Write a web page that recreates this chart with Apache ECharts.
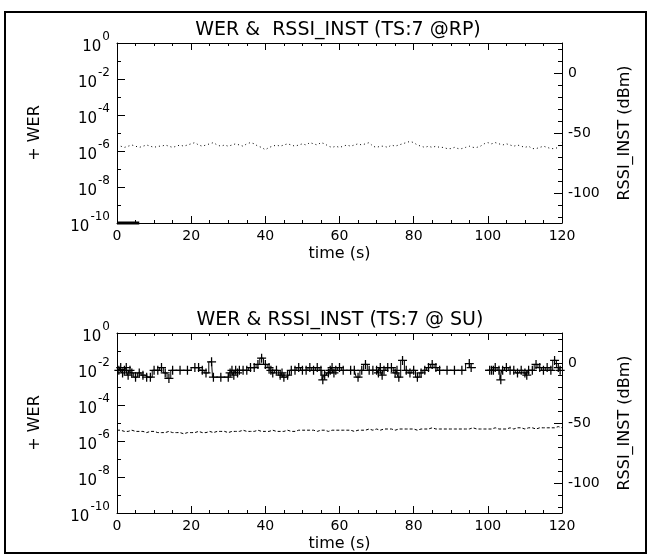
<!DOCTYPE html>
<html>
<head>
<meta charset="utf-8">
<script src="https://cdn.jsdelivr.net/npm/echarts@6/dist/echarts.min.js"></script>
<style>html,body{margin:0;padding:0;background:#fff}#c{width:651px;height:559px}</style>
</head>
<body>
<div id="c"></div>
<script>
// ---- data ----
const titles = ['WER &  RSSI_INST (TS:7 @RP)', 'WER & RSSI_INST (TS:7 @ SU)'];
const xTicks = [0, 20, 40, 60, 80, 100, 120];
const werTickLabels = [1, 1e-2, 1e-4, 1e-6, 1e-8, 1e-10];
const werMinorTicks = [1, 1e-1, 1e-2, 1e-3, 1e-4, 1e-5, 1e-6, 1e-7, 1e-8, 1e-9, 1e-10];
const rssiTickLabels = [0, -50, -100];
const rssiMinorTicks = [20, 10, 0, -10, -20, -30, -40, -50, -60, -70, -80, -90, -100, -110, -120];

const rssiTime = [0,1,2,3,4,5,6,7,8,9,10,11,12,13,14,15,16,17,18,19,20,21,22,23,24,25,26,27,28,29,30,31,32,33,34,35,36,37,38,39,40,41,42,43,44,45,46,47,48,49,50,51,52,53,54,55,56,57,58,59,60,61,62,63,64,65,66,67,68,69,70,71,72,73,74,75,76,77,78,79,80,81,82,83,84,85,86,87,88,89,90,91,92,93,94,95,96,97,98,99,100,101,102,103,104,105,106,107,108,109,110,111,112,113,114,115,116,117,118,119,120];

// RP: RSSI_INST (dBm)
const rssiRP = [
 -62,-61,-62,-61,-60,-61,-62,-61,-60,-61,
 -62,-61,-61,-60,-61,-62,-61,-60,-61,-60,
 -59,-58,-60,-61,-60,-59,-58,-60,-61,-60,
 -61,-60,-59,-60,-61,-59,-58,-59,-61,-62,
 -64,-62,-61,-60,-61,-60,-59,-60,-61,-60,
 -59,-60,-58,-59,-60,-58,-59,-61,-62,-61,
 -62,-61,-60,-61,-60,-59,-60,-59,-58,-61,
 -62,-61,-61,-62,-60,-61,-60,-59,-58,-57,
 -58,-60,-61,-62,-61,-62,-61,-62,-62,-63,
 -63,-62,-63,-63,-62,-61,-62,-62,-61,-59,
 -58,-59,-58,-59,-60,-59,-60,-61,-60,-61,
 -62,-61,-63,-63,-62,-61,-62,-63,-63,-62,
 -58];
// RP: WER (zero -> drawn at the axis floor)
const werRPTime = [0, 2, 4, 6];
const werRP = [1e-10, 1e-10, 1e-10, 1e-10];

// SU: RSSI_INST (dBm)
const rssiSU = [
 -56,-56,-57,-57,-56,-57,-57,-57,-58,-57,
 -57,-58,-58,-58,-57,-58,-58,-58,-59,-58,
 -58,-58,-57,-58,-58,-57,-58,-57,-57,-57,
 -58,-57,-57,-57,-56,-57,-57,-57,-56,-57,
 -57,-57,-56,-57,-57,-57,-56,-57,-57,-56,
 -56,-56,-56,-56,-57,-56,-56,-57,-56,-56,
 -56,-56,-56,-56,-57,-56,-56,-56,-55,-56,
 -55,-56,-55,-55,-55,-56,-55,-55,-55,-55,
 -55,-56,-55,-55,-55,-54,-55,-55,-55,-55,
 -55,-55,-55,-55,-55,-55,-54,-55,-55,-55,
 -55,-55,-54,-55,-55,-55,-54,-55,-54,-54,
 -55,-54,-54,-55,-54,-54,-54,-54,-54,-53,
 -54];
// SU: WER
const werSUTime = [0.5,1,1.5,2,2.5,3,3.5,4,5,6,7,8,9,10,11,12,13,14,15,17,19,21,22,23,24,25.5,26,28,30,30.5,31,31.5,32,32.5,33,34,35,36,37,38,39,40,41,41.5,42,43,44,44.5,45,46,47,48,49,50,51,52,53,54,55,55.5,56,57,57.5,58,58.5,59,60,61,63,64,65,66,67,68,69,70,70.5,71,71.5,72,73,74,75,75.5,76,77,78,79,80,81,82,83,84,85,86,87,89,91,93,95,95.5,98,100.5,101,101.5,102,103,103.5,104,105,106,107,108,109,110,110.5,111,112,113,114,115,116,117,118,119,119.5];
const werSU = [0.0085,0.012,0.006,0.0085,0.012,0.0045,0.0085,0.006,0.0035,0.006,0.0045,0.0035,0.0035,0.0085,0.0085,0.012,0.006,0.003,0.0085,0.0085,0.0085,0.012,0.012,0.0085,0.006,0.025,0.0035,0.0035,0.0035,0.006,0.0085,0.0045,0.0085,0.006,0.0085,0.0085,0.0085,0.012,0.012,0.018,0.04,0.018,0.012,0.0085,0.006,0.0085,0.0045,0.006,0.0035,0.0045,0.0085,0.0085,0.012,0.0085,0.0085,0.012,0.0085,0.012,0.0085,0.0025,0.0045,0.006,0.0085,0.012,0.006,0.0085,0.012,0.0085,0.0085,0.0085,0.0035,0.0085,0.018,0.0085,0.0085,0.0085,0.006,0.012,0.0045,0.0085,0.012,0.012,0.006,0.0085,0.0035,0.03,0.0085,0.006,0.0085,0.0035,0.006,0.0085,0.012,0.018,0.012,0.0085,0.0085,0.0085,0.0085,0.02,0.012,null,0.0085,0.0085,0.0085,0.012,0.0085,0.0025,0.0085,0.012,0.0085,0.0085,0.006,0.0085,0.006,0.0045,0.0085,0.0085,0.018,0.012,0.0085,0.012,0.0085,0.03,0.012,0.0085];

// ---- chart ----
const FONT = 'DejaVu Sans';
const grids = [
  {left: 117, top: 43, width: 445, height: 180},
  {left: 117, top: 333, width: 445, height: 180}
];
const black = '#000';
const xAxes = [], yAxes = [];
function pairs(t, v) { return t.map((x, i) => [x, v[i] == null ? '-' : v[i]]); }
const plus = 'path://M4.3,0H5.7V4.3H10V5.7H5.7V10H4.3V5.7H0V4.3H4.3Z';

grids.forEach((g, gi) => {
  xAxes.push({
    type: 'value', gridIndex: gi, min: 0, max: 120, interval: 20, position: 'bottom',
    axisLine: {onZero: false, lineStyle: {color: black, width: 1}},
    axisTick: {inside: true, length: 7, lineStyle: {color: black}},
    minorTick: {show: true, splitNumber: 4, length: 3, lineStyle: {color: black}},
    axisLabel: {color: black, fontSize: 14, fontFamily: FONT, margin: 6},
    splitLine: {show: false},
    name: 'time (s)', nameLocation: 'middle', nameGap: 23,
    nameTextStyle: {color: black, fontSize: 16, fontFamily: FONT}
  });
  xAxes.push({
    type: 'value', gridIndex: gi, min: 0, max: 120, interval: 20, position: 'top',
    axisLine: {onZero: false, lineStyle: {color: black, width: 1}},
    axisTick: {inside: true, length: 7, lineStyle: {color: black}},
    minorTick: {show: true, splitNumber: 4, length: 3, lineStyle: {color: black}},
    axisLabel: {show: false}, splitLine: {show: false}
  });
  // WER axis (left, log)
  yAxes.push({
    type: 'log', logBase: 10, gridIndex: gi, min: 1e-10, max: 1, position: 'left',
    axisLine: {show: true, onZero: false, lineStyle: {color: black, width: 1}},
    axisTick: {show: true, inside: true, length: 4, customValues: werMinorTicks, lineStyle: {color: black}},
    axisLabel: {
      customValues: werTickLabels, margin: 7, color: black,
      formatter: v => '{b|10}{s|' + (Math.round(Math.log10(v)) === 0 ? '0' : '-' + Math.abs(Math.round(Math.log10(v)))) + '}',
      rich: {
        b: {fontSize: 15, fontFamily: FONT, color: black, padding: [9, 0, 0, 0]},
        s: {fontSize: 12, fontFamily: FONT, color: black, padding: [0, 0, 12, 1]}
      }
    },
    splitLine: {show: false},
    name: '+ WER', nameLocation: 'middle', nameGap: 74, nameRotate: 90,
    nameTextStyle: {color: black, fontSize: 16, fontFamily: FONT}
  });
  yAxes.push({
    type: 'log', logBase: 10, gridIndex: gi, min: 1e-10, max: 1, position: 'left',
    axisLine: {show: false, onZero: false},
    axisTick: {show: true, inside: true, length: 8, customValues: werTickLabels, lineStyle: {color: black}},
    axisLabel: {show: false}, splitLine: {show: false}
  });
  // RSSI axis (right, linear)
  yAxes.push({
    type: 'value', gridIndex: gi, min: -125, max: 25, position: 'right',
    axisLine: {show: true, onZero: false, lineStyle: {color: black, width: 1}},
    axisTick: {show: true, inside: true, length: 4, customValues: rssiMinorTicks, lineStyle: {color: black}},
    axisLabel: {customValues: rssiTickLabels, color: black, fontSize: 14, fontFamily: FONT, margin: 6},
    splitLine: {show: false},
    name: 'RSSI_INST (dBm)', nameLocation: 'middle', nameGap: 55, nameRotate: 90,
    nameTextStyle: {color: black, fontSize: 16, fontFamily: FONT}
  });
  yAxes.push({
    type: 'value', gridIndex: gi, min: -125, max: 25, position: 'right',
    axisLine: {show: false, onZero: false},
    axisTick: {show: true, inside: true, length: 8, customValues: rssiTickLabels, lineStyle: {color: black}},
    axisLabel: {show: false}, splitLine: {show: false}
  });
});

const series = [
  {type: 'line', xAxisIndex: 0, yAxisIndex: 2, data: pairs(rssiTime, rssiRP), showSymbol: false, symbol: 'none',
   lineStyle: {color: black, width: 1, type: [1, 3]}, animation: false},
  {type: 'line', xAxisIndex: 0, yAxisIndex: 0, data: pairs(werRPTime, werRP), symbol: 'none', clip: false,
   lineStyle: {color: black, width: 3}, animation: false},
  {type: 'line', xAxisIndex: 2, yAxisIndex: 6, data: pairs(rssiTime, rssiSU), symbol: 'none',
   lineStyle: {color: black, width: 1, type: [3, 2]}, animation: false},
  {type: 'line', xAxisIndex: 2, yAxisIndex: 4, data: pairs(werSUTime, werSU), step: 'middle',
   symbol: plus, symbolSize: 9, showSymbol: true, connectNulls: false,
   itemStyle: {color: black}, lineStyle: {color: black, width: 1}, animation: false}
];

const chart = echarts.init(document.getElementById('c'), null, {renderer: 'canvas'});
chart.setOption({
  backgroundColor: '#fff',
  animation: false,
  grid: grids,
  xAxis: xAxes,
  yAxis: yAxes,
  series: series,
  graphic: [
    {type: 'rect', shape: {x: 5, y: 12, width: 641, height: 541}, style: {fill: 'none', stroke: black, lineWidth: 2}, silent: true},
    {type: 'text', x: 338, y: 30, style: {text: titles[0], font: '19px "DejaVu Sans"', fill: black, textAlign: 'center', textVerticalAlign: 'middle'}},
    {type: 'text', x: 340, y: 320, style: {text: titles[1], font: '19px "DejaVu Sans"', fill: black, textAlign: 'center', textVerticalAlign: 'middle'}}
  ]
});
</script>
</body>
</html>
